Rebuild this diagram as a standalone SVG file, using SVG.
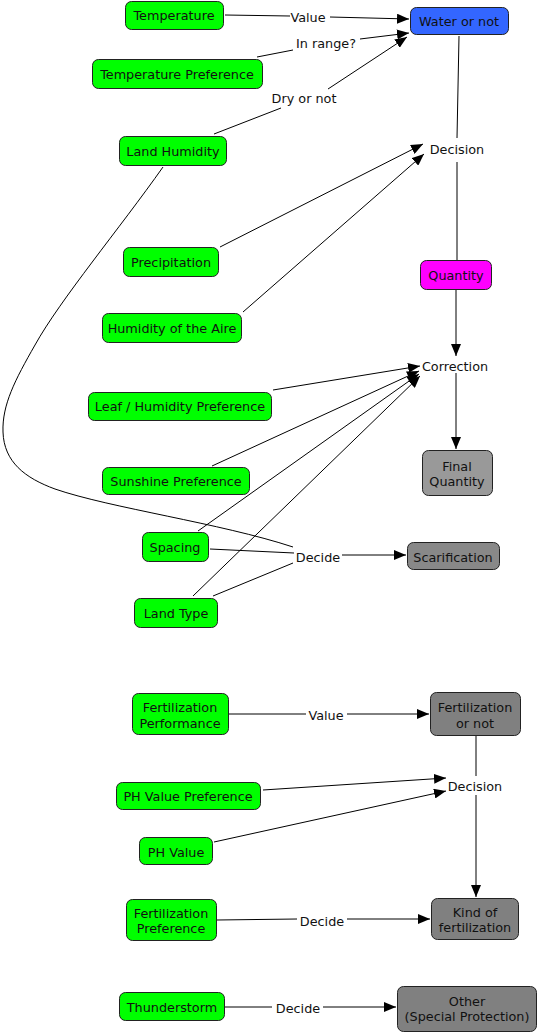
<svg xmlns="http://www.w3.org/2000/svg" width="539" height="1032" viewBox="0 0 539 1032">
<defs>
<marker id="ah" markerUnits="userSpaceOnUse" markerWidth="12" markerHeight="10" refX="12" refY="5" orient="auto">
<path d="M0,0 L12,5 L0,10 z" fill="#000"/>
</marker>
<style>
.n rect{stroke:#222;stroke-width:1}
.g rect{fill:#00ff00}
text{font-family:"DejaVu Sans","Liberation Sans",sans-serif;font-size:12.8px;fill:#111;text-anchor:middle;dominant-baseline:central}
.c line,.c path,.c polyline{stroke:#000;stroke-width:1;fill:none}
.a{marker-end:url(#ah)}
</style>
</defs>
<rect width="539" height="1032" fill="#fff"/>
<g class="c" id="connectors">
<line x1="225" y1="15" x2="290" y2="16"/>
<line class="a" x1="330" y1="17" x2="409" y2="19"/>
<line x1="257" y1="57" x2="293" y2="50"/>
<line class="a" x1="360" y1="39" x2="409" y2="33"/>
<line x1="214" y1="134" x2="281" y2="108"/>
<line class="a" x1="328" y1="89" x2="407" y2="37"/>
<line x1="459" y1="36" x2="457" y2="138"/>
<line x1="457" y1="162" x2="457" y2="260"/>
<line class="a" x1="220" y1="247" x2="423" y2="144"/>
<line class="a" x1="243" y1="312" x2="424" y2="154"/>
<line class="a" x1="456" y1="290" x2="456" y2="356"/>
<line class="a" x1="456" y1="373" x2="456" y2="449"/>
<line class="a" x1="273" y1="390" x2="420" y2="366"/>
<line class="a" x1="212" y1="466" x2="419" y2="371"/>
<line class="a" x1="198" y1="531" x2="419" y2="374"/>
<line class="a" x1="193" y1="596" x2="420" y2="376"/>
<path d="M163,167 C120,228 60,300 35,345 C15,380 2,405 3,432 C4,462 25,478 55,489 C110,508 220,523 293,547"/>
<line x1="210" y1="549" x2="294" y2="553"/>
<line x1="213" y1="596" x2="293" y2="563"/>
<line class="a" x1="342" y1="555" x2="406" y2="555"/>
<line x1="229" y1="714" x2="306" y2="714"/>
<line class="a" x1="347" y1="714" x2="429" y2="714"/>
<line x1="476" y1="736" x2="476" y2="776"/>
<line class="a" x1="476" y1="795" x2="476" y2="897"/>
<line class="a" x1="263" y1="790" x2="446" y2="778"/>
<line class="a" x1="214" y1="842" x2="446" y2="791"/>
<line x1="217" y1="920" x2="297" y2="919"/>
<line class="a" x1="347" y1="919" x2="430" y2="919"/>
<line x1="225" y1="1007" x2="272" y2="1007"/>
<line class="a" x1="323" y1="1007" x2="396" y2="1007"/>
</g>
<g id="labels">
<text x="308" y="17">Value</text>
<text x="326" y="43">In range?</text>
<text x="304" y="98">Dry or not</text>
<text x="457" y="149">Decision</text>
<text x="455" y="366">Correction</text>
<text x="318" y="557">Decide</text>
<text x="326" y="715">Value</text>
<text x="475" y="786">Decision</text>
<text x="322" y="921">Decide</text>
<text x="298" y="1008">Decide</text>
</g>
<g id="temperature" class="n g"><rect x="125.5" y="1.5" width="98" height="28" rx="6"/><text x="174" y="15">Temperature</text></g>
<g id="water" class="n"><rect x="410.5" y="7.5" width="98" height="27" rx="6" fill="#3366ff"/><text x="459" y="21">Water or not</text></g>
<g id="tempPref" class="n g"><rect x="92.5" y="59.5" width="170" height="29" rx="6"/><text x="177" y="74">Temperature Preference</text></g>
<g id="landHumidity" class="n g"><rect x="119.5" y="136.5" width="107" height="29" rx="6"/><text x="173" y="151">Land Humidity</text></g>
<g id="precipitation" class="n g"><rect x="123.5" y="247.5" width="95" height="29" rx="6"/><text x="171" y="262">Precipitation</text></g>
<g id="humidityAire" class="n g"><rect x="102.5" y="313.5" width="139" height="29" rx="6"/><text x="172" y="328">Humidity of the Aire</text></g>
<g id="quantity" class="n"><rect x="420.5" y="260.5" width="71" height="29" rx="6" fill="#ff00ff"/><text x="456" y="275">Quantity</text></g>
<g id="leafPref" class="n g"><rect x="88.5" y="392.5" width="183" height="28" rx="6"/><text x="180" y="406">Leaf / Humidity Preference</text></g>
<g id="finalQuantity" class="n"><rect x="422.5" y="450.5" width="70" height="45" rx="6" fill="#999999"/><text x="457" y="466">Final</text><text x="457" y="481">Quantity</text></g>
<g id="sunshine" class="n g"><rect x="102.5" y="467.5" width="147" height="27" rx="6"/><text x="176" y="481">Sunshine Preference</text></g>
<g id="spacing" class="n g"><rect x="142.5" y="532.5" width="66" height="29" rx="6"/><text x="175" y="547">Spacing</text></g>
<g id="scarification" class="n"><rect x="407.5" y="542.5" width="92" height="27" rx="6" fill="#888888"/><text x="453" y="557">Scarification</text></g>
<g id="landType" class="n g"><rect x="134.5" y="598.5" width="83" height="29" rx="6"/><text x="176" y="613">Land Type</text></g>
<g id="fertPerf" class="n g"><rect x="132.5" y="693.5" width="96" height="41" rx="6"/><text x="180" y="707">Fertilization</text><text x="180" y="723">Performance</text></g>
<g id="fertOrNot" class="n"><rect x="430.5" y="692.5" width="90" height="43" rx="6" fill="#808080"/><text x="475" y="707">Fertilization</text><text x="475" y="723">or not</text></g>
<g id="phPref" class="n g"><rect x="116.5" y="782.5" width="144" height="27" rx="6"/><text x="188" y="796">PH Value Preference</text></g>
<g id="phValue" class="n g"><rect x="139.5" y="837.5" width="73" height="27" rx="6"/><text x="176" y="852">PH Value</text></g>
<g id="fertPref" class="n g"><rect x="126.5" y="899.5" width="90" height="41" rx="6"/><text x="171" y="913">Fertilization</text><text x="171" y="928">Preference</text></g>
<g id="kindFert" class="n"><rect x="431.5" y="898.5" width="87" height="41" rx="6" fill="#808080"/><text x="475" y="912">Kind of</text><text x="475" y="927">fertilization</text></g>
<g id="thunderstorm" class="n g"><rect x="119.5" y="992.5" width="105" height="28" rx="6"/><text x="172" y="1007">Thunderstorm</text></g>
<g id="other" class="n"><rect x="397.5" y="986.5" width="139" height="45" rx="6" fill="#808080"/><text x="467" y="1001">Other</text><text x="467" y="1016">(Special Protection)</text></g>
</svg>
